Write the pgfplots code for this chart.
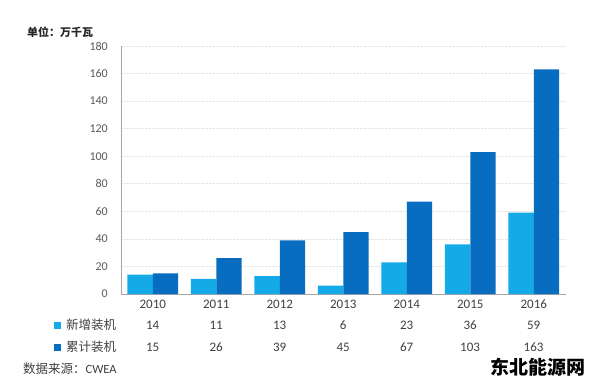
\documentclass[border=0pt]{standalone}
\usepackage{pgfplots}
\pgfplotsset{compat=1.18}
\usepackage{fontspec}
\setmainfont{Carlito}
\newfontfamily\cjk{Noto Sans CJK SC}
\definecolor{lb}{RGB}{20,170,232}
\definecolor{db}{RGB}{8,108,192}
\definecolor{txt}{RGB}{64,64,64}
\definecolor{tickc}{RGB}{89,89,89}
\begin{document}
\begin{tikzpicture}[x=1bp,y=1bp]
\path[use as bounding box] (0,0) rectangle (600,388);
\begin{axis}[at={(121bp,94bp)}, anchor=south west, scale only axis,
  width=444.5bp, height=248bp,
  xmin=-0.5, xmax=6.5, ymin=0, ymax=180,
  ytick={0,20,...,180}, xtick={0,1,2,3,4,5,6},
  xticklabels={2010,2011,2012,2013,2014,2015,2016},
  axis x line*=bottom, axis y line*=left,
  axis line style={gray!70, line width=0.8pt, -},
  major tick length=0pt,
  ymajorgrids, grid style={densely dotted, gray!22, line width=0.6pt},
  ybar=0pt, bar width=25.4bp,
  /pgf/number format/assume math mode=true,
  yticklabel style={font=\fontsize{12bp}{14bp}\selectfont, text=tickc, anchor=east, inner sep=0pt, xshift=-13bp},
  xticklabel style={font=\fontsize{13bp}{15bp}\selectfont, text=txt, anchor=base, inner sep=0pt, yshift=-14.5bp},
  clip=false]
\addplot[fill=lb, draw=none] coordinates {(0,14)(1,11)(2,13)(3,6)(4,23)(5,36)(6,59)};
\addplot[fill=db, draw=none] coordinates {(0,15)(1,26)(2,39)(3,45)(4,67)(5,103)(6,163)};
\end{axis}
% data table
\foreach \v [count=\i from 0] in {14,11,13,6,23,36,59}
  \node[inner sep=0pt, text=txt, font=\fontsize{13bp}{15bp}\selectfont] at ({152.6+63.5*\i},63) {\v};
\foreach \v [count=\i from 0] in {15,26,39,45,67,103,163}
  \node[inner sep=0pt, text=txt, font=\fontsize{13bp}{15bp}\selectfont] at ({152.6+63.5*\i},41) {\v};
\fill[lb] (53.5,59.5) rectangle (60.5,66.5);
\fill[db] (53.5,37.5) rectangle (60.5,44.5);
\node[anchor=west, inner sep=0pt, text=txt, font=\cjk\fontsize{12.5bp}{14bp}\selectfont] at (66,63) {新增装机};
\node[anchor=west, inner sep=0pt, text=txt, font=\cjk\fontsize{12.5bp}{14bp}\selectfont] at (66,41) {累计装机};
\node[anchor=west, inner sep=0pt, text=txt, font=\fontsize{12.5bp}{14bp}\selectfont] at (23,19) {{\cjk 数据来源：}CWEA};
\node[anchor=west, inner sep=0pt, text=black!85, font=\cjk\bfseries\fontsize{11bp}{13bp}\selectfont] at (27,356) {单位：万千瓦};
\node[anchor=west, inner sep=0pt, text=black, font=\cjk\bfseries\fontsize{19bp}{21bp}\selectfont] at (490,21) {东北能源网};
\end{tikzpicture}
\end{document}
